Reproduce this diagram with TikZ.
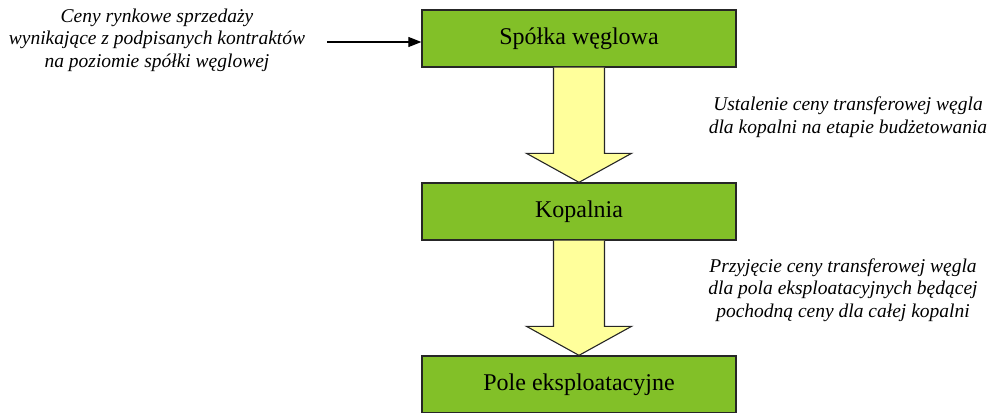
\documentclass[tikz,border=0pt]{standalone}
\usepackage{fontspec}
\setmainfont{Liberation Serif}
\usetikzlibrary{arrows.meta,calc}
\definecolor{boxgreen}{RGB}{130,192,40}
\definecolor{arrowyellow}{RGB}{255,255,155}
\begin{document}
\begin{tikzpicture}[x=1pt,y=-1pt,
  level/.style={draw=black!85,line width=1.3pt,fill=boxgreen,minimum width=314pt,
    minimum height=57pt,inner sep=0pt,font=\fontsize{24}{28}\selectfont},
  note/.style={align=center,inner sep=0pt,font=\fontsize{19.5}{22.5}\selectfont\itshape},
  bigarrow/.style={draw=black!85,line width=1.1pt,fill=arrowyellow,line join=miter},
  feedline/.style={line width=1.1pt,-{Triangle[length=13pt,width=10pt]}}]
\useasboundingbox (0,0) rectangle (1000,412);

% the three levels
\node[level] (spolka) at (579,38.5) {Spółka węglowa};
\node[level] (kopalnia) at (579,211.5) {Kopalnia};
\node[level] (pole) at (579,384.5) {Pole eksploatacyjne};

% block arrows between consecutive levels
\foreach \from/\to in {spolka/kopalnia,kopalnia/pole}{
  \draw[bigarrow] ($(\from.south)+(-25.5,0)$) -- ($(\to.north)+(-25.5,-29)$)
    -- ($(\to.north)+(-52.5,-29)$) -- (\to.north) -- ($(\to.north)+(52.5,-29)$)
    -- ($(\to.north)+(25.5,-29)$) -- ($(\from.south)+(25.5,0)$);
}

% market prices feeding the company level
\node[note] (ceny) at (157,40) {Ceny rynkowe sprzedaży\\wynikające z podpisanych kontraktów\\na poziomie spółki węglowej};
\coordinate (feed) at (327,42);
\draw[feedline] (feed) -- (feed -| spolka.west);

% descriptions of the transfer steps
\node[note] (ustalenie) at (848,117) {Ustalenie ceny transferowej węgla\\dla kopalni na etapie budżetowania};
\node[note] (przyjecie) at (843,290) {Przyjęcie ceny transferowej węgla\\dla pola eksploatacyjnych będącej\\pochodną ceny dla całej kopalni};
\end{tikzpicture}
\end{document}
